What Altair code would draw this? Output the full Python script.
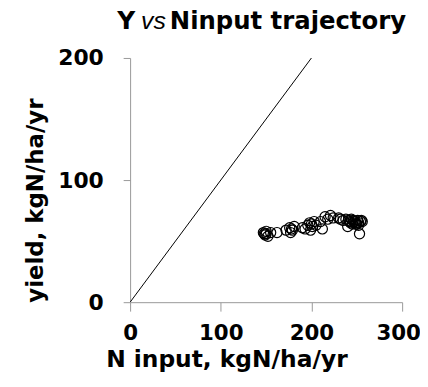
import altair as alt
import pandas as pd

# trajectory points (N input, yield)
n_input = [147, 149, 150, 152, 155, 150, 148, 162, 172, 176, 178, 177, 181, 179, 190, 193, 196, 198, 200, 199,
           203, 205, 201, 210, 212, 215, 218, 221, 224, 230, 232, 235, 238, 240, 242, 245, 247, 249, 251, 252,
           253, 254, 255, 250, 244, 246, 248, 252, 256, 243, 241, 249]
yields = [57, 55, 56, 54, 57, 58, 56, 57, 59, 61, 60, 57, 62, 59, 61, 60, 63, 65, 64, 59,
          66, 63, 62, 66, 60, 70, 68, 71, 69, 69, 68, 67, 68, 62, 66, 64, 66, 65, 67, 63,
          56, 66, 67, 64, 68, 67, 66, 65, 66, 65, 67, 64]

line_x = [0, 200]
line_y = [0, 200]

x_ticks = [0, 100, 200, 300]
y_ticks = [0, 100, 200]

FONT = "DejaVu Sans"
pts = pd.DataFrame({"x": n_input, "y": yields})
ref = pd.DataFrame({"x": line_x, "y": line_y})

xscale = alt.Scale(domain=[0, 300], nice=False, zero=True)
yscale = alt.Scale(domain=[0, 200], nice=False, zero=True)

xaxis = alt.Axis(values=x_ticks, title="N input, kgN/ha/yr", grid=False,
                 domainColor="#999999", tickColor="#999999", tickSize=9,
                 labelFont=FONT, labelFontSize=21.5, labelFontWeight="bold", labelColor="black",
                 labelPadding=12, labelFlush=False,
                 labelOffset={"condition": {"test": "datum.value == 300", "value": -4}, "value": 0},
                 titleFont=FONT, titleFontSize=23.5, titleFontWeight="bold", titleColor="black",
                 titleX=97, titlePadding=3)
yaxis = alt.Axis(values=y_ticks, title="yield, kgN/ha/yr", grid=False,
                 domainColor="#999999", tickColor="#999999", tickSize=7,
                 labelFont=FONT, labelFontSize=22, labelFontWeight="bold", labelColor="black",
                 labelPadding=20,
                 titleFont=FONT, titleFontSize=23, titleFontWeight="bold", titleColor="black",
                 titleAnchor="start", titlePadding=10)

line = alt.Chart(ref).mark_line(color="black", strokeWidth=1, clip=True).encode(
    x=alt.X("x:Q", scale=xscale, axis=xaxis),
    y=alt.Y("y:Q", scale=yscale, axis=yaxis),
)
points = alt.Chart(pts).mark_point(shape="circle", filled=False, color="black", size=105,
                                   strokeWidth=1.2, opacity=1).encode(
    x=alt.X("x:Q", scale=xscale),
    y=alt.Y("y:Q", scale=yscale),
)

t1 = alt.Chart(pd.DataFrame({"t": ["Y"]})).mark_text(
    font=FONT, fontSize=25, fontWeight="bold", align="left", baseline="alphabetic", color="black"
).encode(text="t:N", x=alt.value(118 - 131), y=alt.value(28 - 57))
t2 = alt.Chart(pd.DataFrame({"t": ["vs"]})).mark_text(
    font="Liberation Sans", fontSize=25, fontStyle="italic", align="left", baseline="alphabetic", color="black"
).encode(text="t:N", x=alt.value(142 - 131), y=alt.value(28 - 57))
t3 = alt.Chart(pd.DataFrame({"t": ["Ninput trajectory"]})).mark_text(
    font=FONT, fontSize=24.5, fontWeight="bold", align="left", baseline="alphabetic", color="black"
).encode(text="t:N", x=alt.value(171 - 131), y=alt.value(28 - 57))

chart = alt.layer(line, points, t1, t2, t3).properties(
    width=274, height=246,
    autosize=alt.AutoSizeParams(type="none"),
    padding={"left": 123, "top": 49, "right": 18, "bottom": 70},
).configure_view(stroke=None)

chart.save("out.html", embed_options={"renderer": "svg", "actions": False})
